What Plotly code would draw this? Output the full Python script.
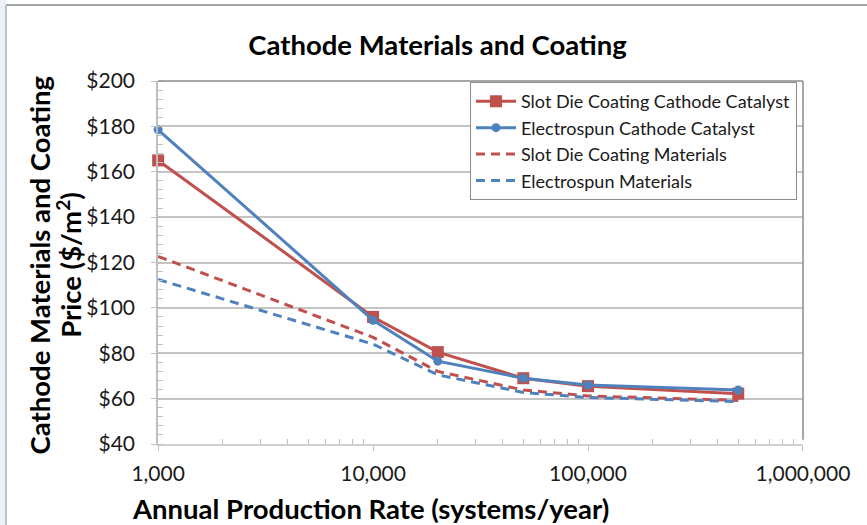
import plotly.graph_objects as go

rates = [1000, 10000, 20000, 50000, 100000, 500000]
slot_catalyst = [165, 96, 80.5, 69, 65.5, 62.2]
electro_catalyst = [178.5, 94.5, 76.5, 69, 66, 63.8]
slot_materials = [122.7, 87, 72, 63.8, 61.2, 59.2]
electro_materials = [112.5, 84, 70.5, 62.7, 60.5, 58.7]

names = ["Slot Die Coating Cathode Catalyst", "Electrospun Cathode Catalyst",
         "Slot Die Coating Materials", "Electrospun Materials"]

x_tickvals = [1000, 10000, 100000, 1000000]
x_ticktext = ["1,000", "10,000", "100,000", "1,000,000"]
y_tickvals = [40, 60, 80, 100, 120, 140, 160, 180, 200]
y_ticktext = ["$" + str(v) for v in y_tickvals]
x_minor = [m * d for d in (1000, 10000, 100000) for m in range(2, 10)]

RED = "#C0504D"
BLUE = "#4F81BD"
FONT = "Lato, Carlito, 'Open Sans', sans-serif"

fig = go.Figure()
fig.add_trace(go.Scatter(x=rates, y=slot_materials, name=names[2], mode="lines", cliponaxis=False,
                         line=dict(color=RED, width=3, dash="9px,6px"), legendrank=3))
fig.add_trace(go.Scatter(x=rates, y=electro_materials, name=names[3], mode="lines", cliponaxis=False,
                         line=dict(color=BLUE, width=3, dash="9px,6px"), legendrank=4))
fig.add_trace(go.Scatter(x=rates, y=slot_catalyst, name=names[0], mode="lines+markers", cliponaxis=False,
                         line=dict(color=RED, width=3),
                         marker=dict(symbol="square", size=12, color=RED), legendrank=1))
fig.add_trace(go.Scatter(x=rates, y=electro_catalyst, name=names[1], mode="lines+markers", cliponaxis=False,
                         line=dict(color=BLUE, width=3),
                         marker=dict(symbol="circle", size=9, color=BLUE), legendrank=2))

fig.update_layout(
    width=867, height=525,
    margin=dict(l=158, r=64, t=81, b=81, autoexpand=False),
    paper_bgcolor="white", plot_bgcolor="white",
    font=dict(family=FONT, size=21, color="#1a1a1a"),
    showlegend=True,
    legend=dict(x=0.4837, y=0.997, xanchor="left", yanchor="top",
                bordercolor="#8c8c8c", borderwidth=1, bgcolor="white",
                font=dict(size=18, color="#1a1a1a"), tracegroupgap=0,
                itemwidth=40),
    title=dict(text="<b>Cathode Materials and Coating</b>", x=0.5046, xanchor="center",
               y=0.914, yanchor="middle", font=dict(size=27.5, family=FONT, color="#000")),
    xaxis=dict(type="log", range=[2.9993, 6.0003], tickvals=x_tickvals, ticktext=x_ticktext,
               showgrid=False, showline=True, linecolor="#d0d0d0", linewidth=1.5,
               ticks="outside", ticklen=5, tickcolor="#bfbfbf",
               minor=dict(tickmode="array", tickvals=x_minor, ticks="inside", ticklen=5,
                          tickcolor="#bfbfbf", showgrid=False),
               ticklabelstandoff=5, zeroline=False),
    yaxis=dict(range=[40, 200], tickvals=y_tickvals, ticktext=y_ticktext,
               showgrid=True, gridcolor="#c4c4c4", gridwidth=1.5,
               showline=True, linecolor="#bfbfbf", linewidth=1.5,
               ticks="outside", ticklen=5, tickcolor="#bfbfbf",
               minor=dict(ticks="inside", ticklen=5, dtick=4, tickcolor="#bfbfbf", showgrid=False),
               ticklabelstandoff=12, zeroline=False),
    annotations=[
        dict(text="<b>Annual Production Rate (systems/year)</b>", xref="paper", yref="paper",
             x=0.3295, y=-0.179, xanchor="center", yanchor="middle", showarrow=False,
             font=dict(size=27.5, color="#000")),
        dict(text="<b>Cathode Materials and Coating</b>", xref="paper", yref="paper",
             x=-0.183, y=0.4945, xanchor="center", yanchor="middle", showarrow=False, textangle=-90,
             font=dict(size=27.5, color="#000")),
        dict(text="<b>Price ($/m<sup>2</sup>)</b>", xref="paper", yref="paper",
             x=-0.1375, y=0.4945, xanchor="center", yanchor="middle", showarrow=False, textangle=-90,
             font=dict(size=27.5, color="#000")),
    ],
    shapes=[
        dict(type="line", xref="paper", yref="paper", x0=0, x1=1, y0=1, y1=1,
             line=dict(color="#8a8a8a", width=1.5)),
        dict(type="line", xref="paper", yref="paper", x0=1, x1=1, y0=0.012, y1=1,
             line=dict(color="#8a8a8a", width=1.5)),
        dict(type="rect", xref="paper", yref="paper", x0=-0.26, x1=-0.2357, y0=-0.25, y1=1.25,
             line=dict(width=0), fillcolor="#eef2f8", layer="below"),
        dict(type="line", xref="paper", yref="paper", x0=-0.2357, x1=1.11, y0=1.2094, y1=1.2094,
             line=dict(color="#8a8a8a", width=1.5)),
        dict(type="line", xref="paper", yref="paper", x0=-0.2357, x1=-0.2357, y0=-0.25, y1=1.2094,
             line=dict(color="#a8b4c8", width=1.5)),
    ],
)

fig.write_html("out.html", config={"displayModeBar": False},
               post_script="document.body.style.margin='0px';document.body.style.overflow='hidden';")
